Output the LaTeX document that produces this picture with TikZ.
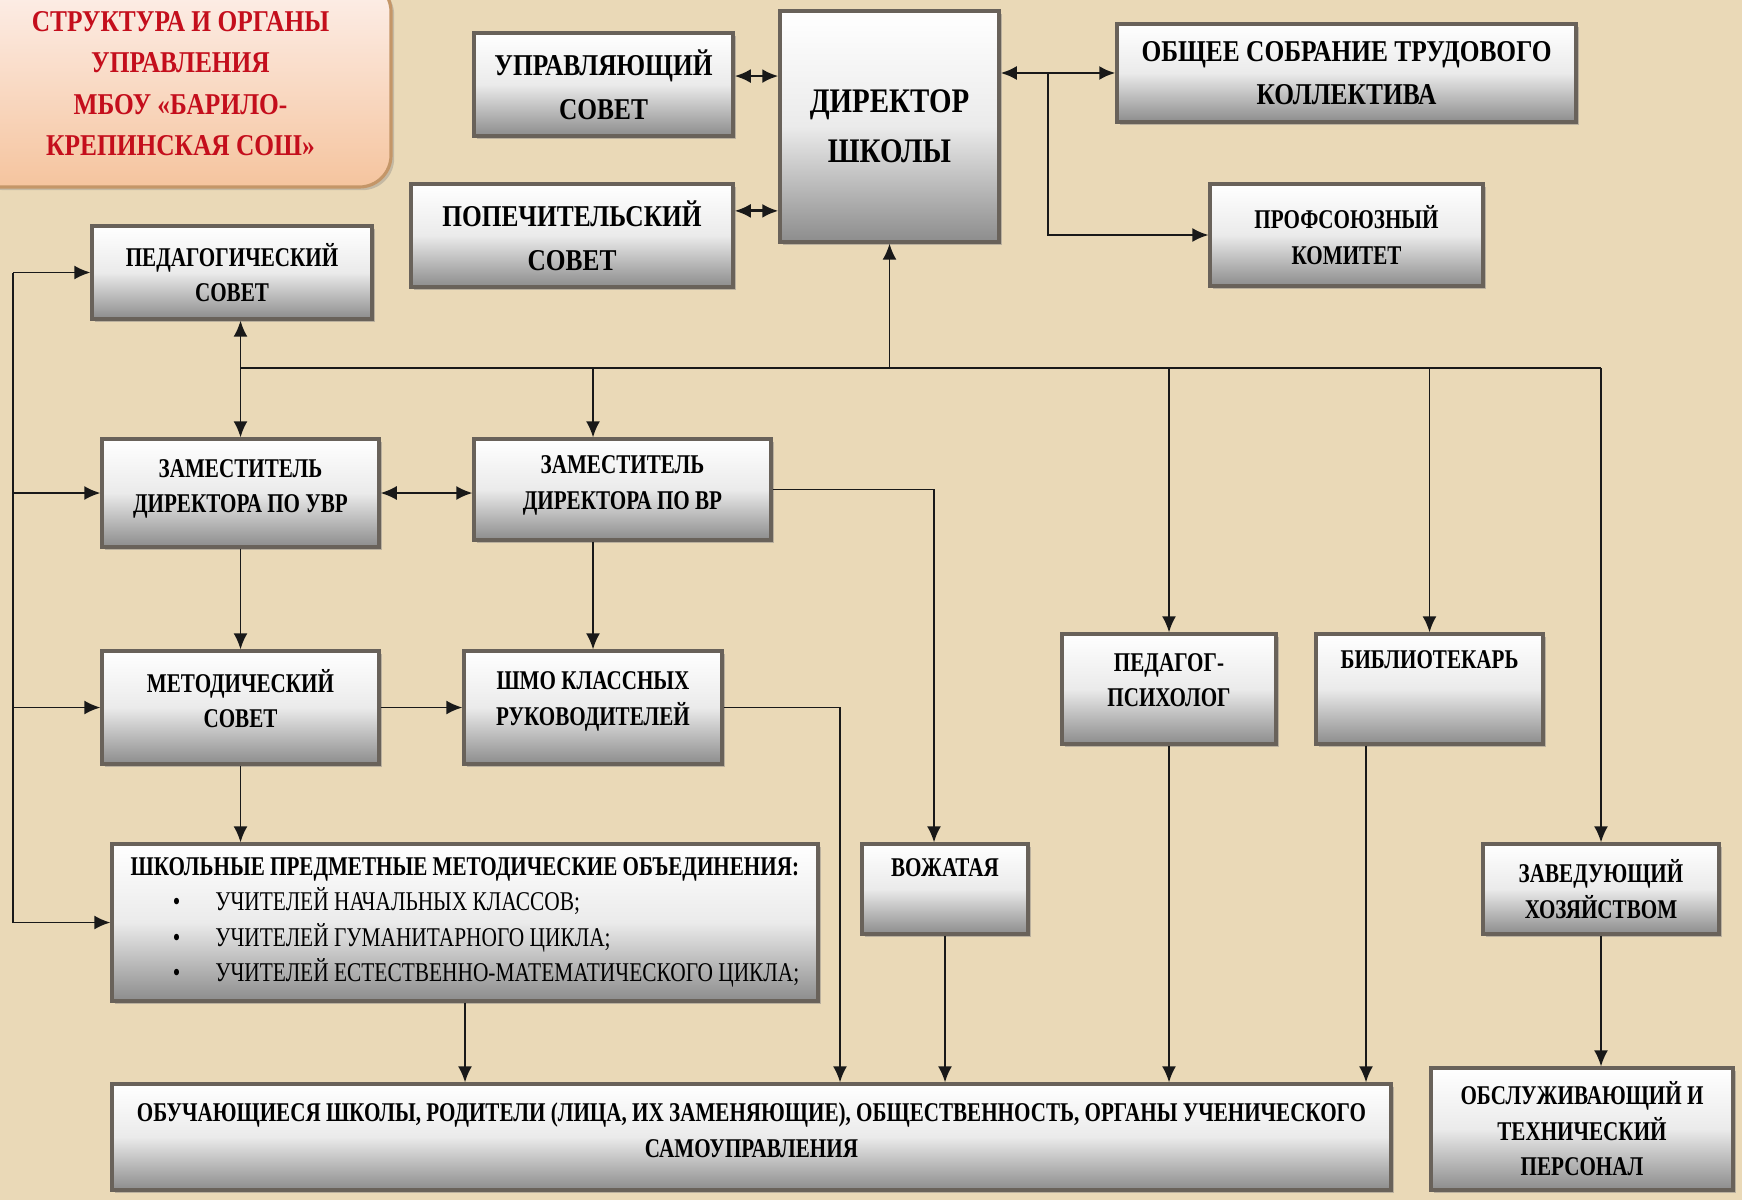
\documentclass[tikz,border=0pt]{standalone}
\usepackage{fontspec}
\setmainfont{Liberation Serif}[FakeStretch=0.84]
\newfontfamily\narrowserif{Liberation Serif}[FakeStretch=0.78]
\newfontfamily\listserif{Liberation Serif}[FakeStretch=0.79]
\usepackage{tikz}
\usetikzlibrary{arrows.meta,shadows}
\definecolor{paper}{RGB}{234,217,183}
\definecolor{titlered}{RGB}{196,14,28}
\definecolor{peach}{RGB}{245,196,158}
\definecolor{blush}{RGB}{253,240,235}
\definecolor{tan}{RGB}{196,150,104}
\definecolor{rim}{RGB}{105,98,90}
\newcommand{\bigbox}{\fontsize{9.8}{14.2}\selectfont\bfseries}
\newcommand{\normbox}{\fontsize{8.6}{12.4}\selectfont\bfseries}
\newcommand{\titlebox}{\fontsize{8.6}{11.8}\selectfont\bfseries}
\newcommand{\smallbox}{\narrowserif\fontsize{7.7}{10.1}\selectfont\bfseries}
\newcommand{\listbox}{\listserif\fontsize{7.7}{10.1}\selectfont\mdseries}
\tikzset{
  blok/.style={draw=rim, line width=0.9pt, top color=white, bottom color=black!45, middle color=black!8,
    drop shadow={opacity=0.45, shadow xshift=0.9pt, shadow yshift=-0.9pt}, align=center, inner sep=2pt, font=\smallbox},
  titul/.style={draw=tan, line width=0.9pt, rounded corners=9pt, top color=blush, bottom color=peach,
    drop shadow={opacity=0.35, shadow xshift=0.9pt, shadow yshift=-0.9pt}, align=center, text=titlered, font=\titlebox},
  link/.style={draw=black!90, line width=0.55pt},
  arr/.style={link, -{Latex[length=4.6pt,width=4pt]}},
  darr/.style={link, {Latex[length=4.6pt,width=4pt]}-{Latex[length=4.6pt,width=4pt]}},
}

\begin{document}
\begin{tikzpicture}[x=0.1mm, y=-0.1mm]
            \useasboundingbox (0,0) rectangle (1742,1200);
            \fill[paper] (0,0) rectangle (1742,1200);

            \node[titul, minimum width=42.1mm, minimum height=20.7mm] (title) at (180.5,83.5) {СТРУКТУРА И ОРГАНЫ\\УПРАВЛЕНИЯ\\МБОУ «БАРИЛО-\\КРЕПИНСКАЯ СОШ»};

            \node[blok, font=\normbox, minimum width=25.9mm, minimum height=10.3mm] (upr) at (603.5,84.5) {УПРАВЛЯЮЩИЙ\\СОВЕТ};
            \node[blok, font=\bigbox, minimum width=21.9mm, minimum height=23.1mm] (dir) at (889.5,126.5) {ДИРЕКТОР\\ШКОЛЫ};
            \node[blok, font=\normbox, minimum width=45.9mm, minimum height=9.8mm] (obsh) at (1346.5,73) {ОБЩЕЕ СОБРАНИЕ ТРУДОВОГО\\КОЛЛЕКТИВА};
            \node[blok, font=\normbox, minimum width=32.2mm, minimum height=10.3mm] (popech) at (572,235.5) {ПОПЕЧИТЕЛЬСКИЙ\\СОВЕТ};
            \node[blok, minimum width=27.3mm, minimum height=10.2mm] (prof) at (1346.5,235) {ПРОФСОЮЗНЫЙ\\КОМИТЕТ};
            \node[blok, minimum width=28mm, minimum height=9.3mm] (pedsov) at (232,272.5) {ПЕДАГОГИЧЕСКИЙ\\СОВЕТ};
            \node[blok, minimum width=27.7mm, minimum height=10.8mm, text depth=4pt] (zamuvr) at (240.5,493) {ЗАМЕСТИТЕЛЬ\\ДИРЕКТОРА ПО УВР};
            \node[blok, minimum width=29.7mm, minimum height=10.1mm, text depth=4pt] (zamvr) at (622.5,489.5) {ЗАМЕСТИТЕЛЬ\\ДИРЕКТОРА ПО ВР};
            \node[blok, minimum width=27.7mm, minimum height=11.3mm, text depth=5pt] (metsov) at (240.5,707.5) {МЕТОДИЧЕСКИЙ\\СОВЕТ};
            \node[blok, minimum width=25.8mm, minimum height=11.3mm, text depth=5pt] (shmo) at (593,707.5) {ШМО КЛАССНЫХ\\РУКОВОДИТЕЛЕЙ};
            \node[blok, minimum width=21.4mm, minimum height=11mm, text depth=5pt] (psych) at (1169,689) {ПЕДАГОГ-\\ПСИХОЛОГ};
            \node[blok, minimum width=22.7mm, minimum height=11mm, text depth=17pt] (bibl) at (1429.5,689) {БИБЛИОТЕКАРЬ};
            \node[blok, minimum width=70.6mm, minimum height=15.7mm, align=left] (shpmo) at (465,922.5) {ШКОЛЬНЫЕ ПРЕДМЕТНЫЕ МЕТОДИЧЕСКИЕ ОБЪЕДИНЕНИЯ:\\
              {\listbox\hspace*{12pt}•\hspace{10pt}УЧИТЕЛЕЙ НАЧАЛЬНЫХ КЛАССОВ;}\\
              {\listbox\hspace*{12pt}•\hspace{10pt}УЧИТЕЛЕЙ ГУМАНИТАРНОГО ЦИКЛА;}\\
              {\listbox\hspace*{12pt}•\hspace{10pt}УЧИТЕЛЕЙ ЕСТЕСТВЕННО-МАТЕМАТИЧЕСКОГО ЦИКЛА;}};
            \node[blok, minimum width=16.6mm, minimum height=9mm, text depth=12pt] (vozh) at (945,889) {ВОЖАТАЯ};
            \node[blok, minimum width=23.6mm, minimum height=9mm] (zav) at (1601,889) {ЗАВЕДУЮЩИЙ\\ХОЗЯЙСТВОМ};
            \node[blok, minimum width=127.9mm, minimum height=10.6mm, text depth=4pt] (obuch) at (751.5,1137) {ОБУЧАЮЩИЕСЯ ШКОЛЫ, РОДИТЕЛИ (ЛИЦА, ИХ ЗАМЕНЯЮЩИЕ), ОБЩЕСТВЕННОСТЬ, ОРГАНЫ УЧЕНИЧЕСКОГО\\САМОУПРАВЛЕНИЯ};
            \node[blok, minimum width=30.2mm, minimum height=12.2mm] (obsl) at (1582,1129) {ОБСЛУЖИВАЮЩИЙ И\\ТЕХНИЧЕСКИЙ\\ПЕРСОНАЛ};

            \coordinate (busL) at (zamuvr.north |- 0,368);
            \coordinate (busR) at (zav.north |- 0,368);
            \coordinate (lft) at (13,0);
            \coordinate (prx) at (1048,0);
            \coordinate (vzx) at (934,0);
            \coordinate (smx) at (840,0);
            \coordinate (bbx) at (1366,0);

            \draw[darr, line width=0.8pt] ([yshift=2.4pt]upr.east) -- ([yshift=2.4pt]upr.east -| dir.west);
            \draw[darr, line width=0.8pt] ([yshift=7pt]popech.east) -- ([yshift=7pt]popech.east -| dir.west);
            \draw[darr, line width=0.8pt] (obsh.west -| dir.east) -- (obsh.west);
            \draw[arr] (prx |- obsh.west) |- (prof.west);

            \draw[link] (busL) -- (busR);
            \draw[arr] (dir.south |- busL) -- (dir.south);
            \draw[darr] (pedsov.south -| busL) -- (zamuvr.north);
            \draw[arr] (shmo.north |- busL) -- (shmo.north |- zamvr.north);
            \foreach \n in {psych,bibl,zav}
              \draw[arr] (\n.north |- busL) -- (\n.north);

            \draw[darr] (zamuvr.east) -- (zamuvr.east -| zamvr.west);
            \draw[arr] (zamvr.east) -| (vzx |- vozh.north);
            \draw[arr] (zamuvr.south) -- (metsov.north);
            \draw[arr] (shmo.north |- zamvr.south) -- (shmo.north);
            \draw[arr] (metsov.east) -- (shmo.west);
            \draw[arr] (metsov.south) -- (metsov.south |- shpmo.north);
            \draw[arr] (shmo.east) -| (smx |- obuch.north);

            \draw[arr] (shpmo.south) -- (shpmo.south |- obuch.north);
            \draw[arr] (vozh.south) -- (vozh.south |- obuch.north);
            \draw[arr] (psych.south) -- (psych.south |- obuch.north);
            \draw[arr] (bbx |- bibl.south) -- (bbx |- obuch.north);
            \draw[arr] (zav.south) -- (zav.south |- obsl.north);

            \draw[link] (lft |- pedsov.west) -- (lft |- shpmo.west);
            \foreach \n in {pedsov,zamuvr,metsov,shpmo}
              \draw[arr] (lft |- \n.west) -- (\n.west);
\end{tikzpicture}
\end{document}
